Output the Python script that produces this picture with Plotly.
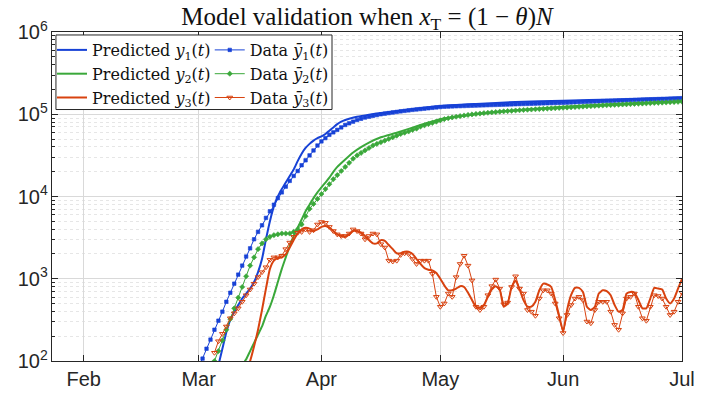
import pandas as pd
import plotly.graph_objects as go

# ---------------- data ----------------
month_ticks = ["2020-02-01", "2020-03-01", "2020-04-01", "2020-05-01", "2020-06-01", "2020-07-01"]
month_labels = ["Feb", "Mar", "Apr", "May", "Jun", "Jul"]

# Data y1bar: daily from 2020-03-01
data1_start = "2020-03-01"
data1 = [83, 107, 141, 182, 240, 309, 398, 525, 676, 871,
         1122, 1445, 1862, 2344, 3020, 3715, 4467, 5495, 6607, 7943,
         9550, 11220, 13180, 15490, 17780, 20420, 23990, 27540, 31620, 36310,
         41690, 46770, 51290, 56230, 60260, 64570, 69180, 74130, 77620, 81280,
         85110, 88100, 91200, 93330, 95500, 97720,
         100000, 101600, 103300, 105000, 106700, 108400, 109900, 111400, 113000, 114300,
         115600, 116900, 118300, 119700, 121100, 122500,
         123500, 124000, 124500, 125000, 125500, 126000, 126500, 127000, 127500, 128000,
         128400, 128900, 129400, 129900, 130400, 130900, 131400, 131800, 132300, 132800,
         133300, 133800, 134200, 134700, 135200, 135700, 136100, 136600, 137000, 137500, 137900,
         138500, 139200, 139800, 140500, 141100, 141800, 142400, 143100, 143700, 144400,
         145000, 145600, 146300, 146900, 147500, 148200, 148800, 149400, 150000, 150700,
         151300, 151900, 152500, 153100, 153800, 154400, 155000, 155600, 156200, 156900]

# Data y2bar: daily from 2020-03-05
data2_start = "2020-03-05"
data2 = [100, 132, 178, 240, 324, 437, 589, 794, 1072, 1445,
         1820, 2291, 2692, 3020, 3236, 3388, 3467, 3548, 3548, 3548,
         3715, 3981, 4571, 5754, 7079, 8128, 9333, 10720, 12300, 14130,
         16220, 18200, 20420, 22910, 25700, 28840, 31620, 33880, 36310, 38900,
         41690, 43650, 45710, 47860, 50120, 52480, 54950, 57540, 59570, 61660,
         64570, 66830, 70800, 73280, 75860, 78520, 81280, 84140,
         87200, 89400, 91500, 93300, 95000, 96600, 98100, 99500, 100800, 102000,
         103200, 104300, 105400, 106400, 107400, 108400, 109300, 110200, 111100, 111900,
         112700, 113500, 114300, 115000, 115700, 116400, 117100, 117800, 118500, 119200, 119900,
         120700, 121500, 122300, 123100, 123900, 124700, 125500, 126300, 127100, 127900,
         128700, 129400, 130100, 130800, 131500, 132200, 132900, 133600, 134300, 135000,
         135700, 136400, 137100, 137800, 138500, 139200, 140000, 140800, 141600, 142400]

# Data y3bar: daily from 2020-03-05
data3_start = "2020-03-05"
data3 = [126, 174, 214, 263, 331, 380, 437, 525, 631, 741,
         871, 1047, 1202, 1380, 1698, 1820, 1820, 1905, 2291, 2754,
         3236, 3631, 3715, 3981, 3715, 3890, 4571, 4898, 4786, 4266,
         3802, 3467, 3311, 3311, 3548, 3981, 3802, 3548, 3020, 3311,
         3548, 3467, 2630, 2399, 1660, 1622, 1660, 1950, 2042, 1995,
         1738, 1514, 1660, 1660, 1660, 1148, 603, 457, 501, 661,
         603, 1047, 1514, 1905, 1445, 955, 457, 417, 457, 631,
         813, 977, 759, 490, 513, 794, 1072, 759, 661, 417,
         398, 355, 575, 724, 724, 661, 501, 331, 219, 363,
         479, 575, 603, 550, 302, 288, 417, 525, 525, 525,
         398, 275, 240, 380, 575, 603, 661, 457, 331, 309,
         457, 631, 617, 575, 457, 363, 398, 525, 676]

# Predicted y1(t)
pred1_dates = list(pd.date_range("2020-03-06", "2020-04-08").strftime("%Y-%m-%d")) + [
    "2020-04-10", "2020-04-13", "2020-04-16", "2020-04-20", "2020-04-24",
    "2020-05-01", "2020-05-10", "2020-05-20", "2020-06-01", "2020-06-14", "2020-07-01"]
pred1 = [89, 141, 224, 316, 398, 479, 575, 661, 759, 912,
         1202, 1738, 3020, 5012, 7586, 10000, 12300, 14790, 17780, 21380,
         26920, 33110, 38900, 43650, 47860, 51290, 53700, 57540, 63100, 69180,
         75860, 81280, 85110, 88100,
         93330, 98860, 103500, 109600, 116100, 125900, 133400, 141300, 146200, 151400, 160300]

# Predicted y2(t)
pred2_dates = list(pd.date_range("2020-03-12", "2020-04-05").strftime("%Y-%m-%d")) + [
    "2020-04-07", "2020-04-09", "2020-04-11", "2020-04-13", "2020-04-16", "2020-04-20",
    "2020-04-26", "2020-05-01", "2020-05-10", "2020-05-20", "2020-06-01", "2020-06-14", "2020-07-01"]
pred2 = [89, 105, 132, 166, 209, 263, 355, 457, 631, 912,
         1318, 1820, 2512, 3311, 4169, 5248, 6607, 7943, 9550, 11220,
         12880, 14790, 16980, 19950, 22910,
         28180, 34280, 39810, 45190, 52480, 59570, 74130, 87100, 100000, 112200, 123000, 133400, 144500]

# Predicted y3(t): daily from 2020-03-13
pred3_start = "2020-03-13"
pred3 = [79, 100, 151, 240, 417, 759, 1318, 1660, 1778, 1820,
         1995, 2399, 2951, 3548, 3981, 4169, 4074, 3802, 3981, 4266,
         4365, 4169, 3802, 3467, 3311, 3236, 3467, 3802, 3802, 3631,
         3311, 2951, 2692, 2692, 2951, 2884, 2570, 2291, 2042, 2042,
         2138, 2138, 1995, 1738, 1514, 1349, 1288, 1259, 1175, 1000,
         832, 724, 724, 759, 813, 794, 676, 550, 457, 447,
         479, 603, 741, 813, 741, 457, 501, 794, 955, 741,
         550, 457, 457, 525, 724, 871, 851, 794, 550, 355,
         229, 417, 631, 776, 776, 692, 457, 417, 457, 661,
         724, 708, 631, 479, 398, 417, 661, 692, 676, 550,
         437, 437, 575, 776, 759, 741, 575, 501, 575, 759, 1000]

# ---------------- figure ----------------
BLUE = "#1742d6"
GREEN = "#3aa83a"
RED = "#d8420f"
SERIF_TITLE = "Liberation Serif"
SERIF_LEG = "DejaVu Serif"
SANS = "Liberation Sans"


def daily(start, vals):
    return pd.date_range(start, periods=len(vals)).strftime("%Y-%m-%d")


fig = go.Figure()

fig.add_trace(go.Scatter(x=pred1_dates, y=pred1, mode="lines", line=dict(color=BLUE, width=2, shape="spline", smoothing=0.5),
                         name="Predicted <i>y</i><sub>1</sub>(<i>t</i>)", legend="legend"))
fig.add_trace(go.Scatter(x=pred2_dates, y=pred2, mode="lines", line=dict(color=GREEN, width=2, shape="spline", smoothing=0.5),
                         name="Predicted <i>y</i><sub>2</sub>(<i>t</i>)", legend="legend"))
fig.add_trace(go.Scatter(x=daily(pred3_start, pred3), y=pred3, mode="lines", line=dict(color=RED, width=2, shape="spline", smoothing=0.5),
                         name="Predicted <i>y</i><sub>3</sub>(<i>t</i>)", legend="legend"))

fig.add_trace(go.Scatter(x=daily(data1_start, data1), y=data1, mode="lines+markers",
                         line=dict(color=BLUE, width=1),
                         marker=dict(symbol="square", size=3.5, color=BLUE, line=dict(color=BLUE, width=0.6)),
                         name="Data <i>ȳ</i><sub>1</sub>(<i>t</i>)", legend="legend2"))
fig.add_trace(go.Scatter(x=daily(data2_start, data2), y=data2, mode="lines+markers",
                         line=dict(color=GREEN, width=1),
                         marker=dict(symbol="diamond", size=4, color=GREEN, line=dict(color=GREEN, width=0.6)),
                         name="Data <i>ȳ</i><sub>2</sub>(<i>t</i>)", legend="legend2"))
fig.add_trace(go.Scatter(x=daily(data3_start, data3), y=data3, mode="lines+markers",
                         line=dict(color=RED, width=1),
                         marker=dict(symbol="triangle-down-open", size=5, color=RED, line=dict(color=RED, width=1)),
                         name="Data <i>ȳ</i><sub>3</sub>(<i>t</i>)", legend="legend2"))

W, H = 707, 402
L, R, T, B = 52, 16, 32, 39
pw, ph = W - L - R, H - T - B


def px_x(p):
    return (p - L) / pw


def px_y(p):
    return (H - B - p) / ph


# legend frame
fig.add_shape(type="rect", xref="paper", yref="paper",
              x0=px_x(56), x1=px_x(336), y0=px_y(110), y1=px_y(35),
              line=dict(color="#262626", width=1), fillcolor="white", layer="above")

legend_common = dict(bgcolor="rgba(0,0,0,0)", borderwidth=0, font=dict(family=SERIF_LEG, size=16, color="#111"),
                     yanchor="top", xanchor="left", tracegroupgap=0, itemwidth=30)

fig.update_layout(
    width=W, height=H,
    margin=dict(l=L, r=R, t=T, b=B),
    paper_bgcolor="white", plot_bgcolor="white",
    title=dict(text="Model validation when <i>x</i><sub>T</sub> = (1 − <i>θ</i>)<i>N</i>",
               x=0.5, xref="paper", xanchor="center", y=1 - 16 / H, yref="container", yanchor="middle",
               font=dict(family=SERIF_TITLE, size=25, color="#111")),
    legend=dict(x=px_x(52), y=px_y(33), **legend_common),
    legend2=dict(x=px_x(212), y=px_y(33), **legend_common),
    showlegend=True,
)

fig.update_xaxes(
    type="date", range=["2020-01-24", "2020-07-01"],
    tickvals=month_ticks, ticktext=month_labels,
    tickfont=dict(family=SANS, size=20, color="#262626"),
    ticks="inside", ticklen=6, tickcolor="#262626",
    showline=True, linecolor="#262626", linewidth=1, mirror="ticks",
    showgrid=True, gridcolor="#d9d9d9", gridwidth=1, zeroline=False,
)
fig.update_yaxes(
    type="log", range=[2, 6], dtick=1, exponentformat="power",
    tickfont=dict(family=SANS, size=16, color="#262626"),
    ticks="inside", ticklen=6, tickcolor="#262626",
    showline=True, linecolor="#262626", linewidth=1, mirror="ticks",
    showgrid=True, gridcolor="#d9d9d9", gridwidth=1, zeroline=False,
    minor=dict(dtick="D1", ticks="inside", ticklen=3, tickcolor="#262626",
               showgrid=True, gridcolor="#e6e6e6", griddash="dot", gridwidth=1),
)

fig.write_html("out.html", config={"displayModeBar": False},
               post_script="document.body.style.margin='0';")
